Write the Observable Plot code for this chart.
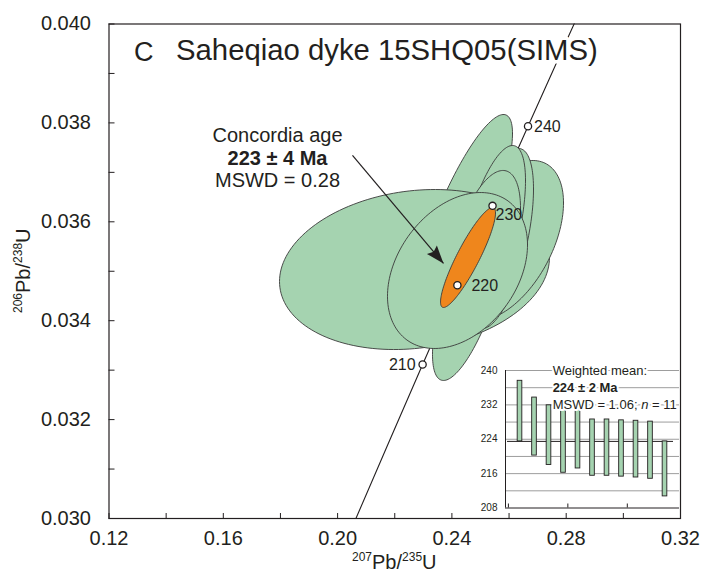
<!DOCTYPE html>
<html><head><meta charset="utf-8">
<script src="https://cdn.jsdelivr.net/npm/d3@7"></script>
<script src="https://cdn.jsdelivr.net/npm/@observablehq/plot@0.6"></script>
<style>
body{margin:0;background:#fff;}
#wrap{position:relative;width:703px;height:575px;font-family:"Liberation Sans",Arial,sans-serif;}
#wrap svg{position:absolute;overflow:visible;}
</style></head><body><div id="wrap"></div>
<script>
// ---------- data ----------
const concordiaAges = [190, 200, 210, 220, 230, 240, 250, 260];
const concordiaX = [0.20576, 0.21770, 0.22975, 0.24192, 0.25422, 0.26664, 0.27918, 0.29183];
const concordiaY = [0.029913, 0.031511, 0.033113, 0.034717, 0.036323, 0.037932, 0.039543, 0.041157];
const labelledAges = [210, 220, 230, 240];

// analysis error ellipses (centre, x half-extent, y half-extent, correlation)
const ellipseIds = ["H", "B", "A", "G", "F", "E", "D", "C"];
const ellipseCX = [0.24651, 0.24371, 0.22691, 0.25876, 0.25701, 0.25351, 0.25176, 0.24196];
const ellipseCY = [0.034611, 0.036026, 0.035035, 0.035622, 0.035662, 0.035622, 0.035521, 0.035015];
const ellipseRX = [0.01330, 0.01750, 0.04724, 0.02030, 0.01155, 0.01225, 0.01225, 0.02450];
const ellipseRY = [0.001820, 0.002144, 0.001618, 0.001618, 0.001820, 0.001921, 0.001517, 0.001577];
const ellipseRho = [0.71, 0.82, 0.15, 0.47, 0.55, 0.63, 0.50, 0.33];

// concordia age ellipse
const ageCX = [0.24564], ageCY = [0.035278], ageRX = [0.00962], ageRY = [0.001011], ageRho = [0.89];

const xTicks = [0.12, 0.16, 0.20, 0.24, 0.28, 0.32];
const xMinorTicks = [0.12, 0.14, 0.16, 0.18, 0.20, 0.22, 0.24, 0.26, 0.28, 0.30, 0.32];
const yTicks = [0.030, 0.032, 0.034, 0.036, 0.038, 0.040];
const yMinorTicks = [0.030, 0.031, 0.032, 0.033, 0.034, 0.035, 0.036, 0.037, 0.038, 0.039, 0.040];

const titleLetter = "C";
const titleText = "Saheqiao dyke 15SHQ05(SIMS)";
const annotationLines = ["Concordia age", "223 ± 4 Ma", "MSWD = 0.28"];
const arrowFrom = [0.20521, 0.037341];
const arrowTo = [0.23706, 0.035157];

// inset: weighted mean of 206Pb/238U ages
const insetIndex = [1, 2, 3, 4, 5, 6, 7, 8, 9, 10, 11];
const insetLow  = [223.5, 220.2, 218.0, 216.2, 217.2, 215.5, 215.5, 215.3, 215.1, 214.8, 210.7];
const insetHigh = [237.6, 233.7, 231.9, 231.5, 230.8, 228.6, 228.6, 228.4, 228.3, 228.1, 223.5];
const insetMean = 223.5;
const insetGrid = [212, 216, 220, 224, 228, 232, 236, 240];
const insetTicks = [208, 216, 224, 232, 240];
const insetXTicks = [0.2, 4.3, 8.4];
const insetLines = ["Weighted mean:", "224 ± 2 Ma", "MSWD = 1.06; n = 11"];

// ---------- styles ----------
const ink = "#231f20";
const edge = "#3a3a3a";
const green = "#a5d3b0";
const orange = "#ef861c";
const font = "'Liberation Sans', Arial, Helvetica, sans-serif";

// ---------- geometry ----------
const W = 703, H = 575, mL = 108.5, mR = 23, mT = 23.5, mB = 57;
const xDom = [0.12, 0.32], yDom = [0.030, 0.040];
const pxPerX = (W - mL - mR) / (xDom[1] - xDom[0]);
const pxPerY = (H - mT - mB) / (yDom[1] - yDom[0]);

function ellipsePoints(id, cx, cy, rx, ry, rho) {
  const s = Math.sqrt(1 - rho * rho), pts = [];
  const n = 160;
  for (let k = 0; k <= n; k++) {
    const t = (2 * Math.PI * k) / n;
    pts.push({id, x: cx + rx * Math.cos(t), y: cy + ry * (rho * Math.cos(t) + s * Math.sin(t))});
  }
  return pts;
}
const ellipses = ellipseIds.flatMap((id, i) =>
  ellipsePoints(id, ellipseCX[i], ellipseCY[i], ellipseRX[i], ellipseRY[i], ellipseRho[i]));
const ageEllipse = ellipsePoints("age", ageCX[0], ageCY[0], ageRX[0], ageRY[0], ageRho[0]);

const concordia = concordiaAges.map((a, i) => ({age: a, x: concordiaX[i], y: concordiaY[i]}));
const concTicks = concordia.filter(d => labelledAges.includes(d.age));

// arrowhead symbol pointing along the arrow direction (screen space)
const ddx = (arrowTo[0] - arrowFrom[0]) * pxPerX;
const ddy = -(arrowTo[1] - arrowFrom[1]) * pxPerY;
const dl = Math.hypot(ddx, ddy);
const ux = ddx / dl, uy = ddy / dl, nx = -uy, ny = ux;
const headLen = 18, headWid = 13;
const headSymbol = {draw(ctx) {
  ctx.moveTo(0, 0);
  ctx.lineTo(-ux * headLen + nx * headWid / 2, -uy * headLen + ny * headWid / 2);
  ctx.lineTo(-ux * headLen * 0.85, -uy * headLen * 0.85);
  ctx.lineTo(-ux * headLen - nx * headWid / 2, -uy * headLen - ny * headWid / 2);
  ctx.closePath();
}};

const tickLenX = 5 / pxPerY;
const tickLenY = 6 / pxPerX;

const labelOffsets = {210: [-7, 0, "end"], 220: [14, 1, "start"], 230: [3, 9, "start"], 240: [6, 1, "start"]};

const main = Plot.plot({
  width: W, height: H,
  marginLeft: mL, marginRight: mR, marginTop: mT, marginBottom: mB,
  x: {domain: xDom},
  y: {domain: yDom},
  style: {fontFamily: font, color: ink, background: "transparent", overflow: "visible"},
  marks: [
    Plot.line(concordia, {x: "x", y: "y", stroke: ink, strokeWidth: 1.1, curve: "natural", clip: true}),
    Plot.line(ellipses, {x: "x", y: "y", z: "id", fill: green, stroke: edge, strokeWidth: 0.9}),
    Plot.line(ageEllipse, {x: "x", y: "y", fill: orange, stroke: edge, strokeWidth: 0.9}),
    Plot.link([0], {x1: () => arrowFrom[0], y1: () => arrowFrom[1], x2: () => arrowTo[0], y2: () => arrowTo[1], stroke: ink, strokeWidth: 1.2}),
    Plot.dot([0], {x: () => arrowTo[0], y: () => arrowTo[1], symbol: headSymbol, fill: ink, stroke: "none"}),
    Plot.dot(concTicks, {x: "x", y: "y", r: 3.6, fill: "white", stroke: ink, strokeWidth: 1.3}),
    ...concTicks.map(d => Plot.text([d], {x: "x", y: "y", text: dd => String(dd.age),
      dx: labelOffsets[d.age][0], dy: labelOffsets[d.age][1], textAnchor: labelOffsets[d.age][2],
      fontSize: 16, fill: ink})),
    Plot.text([titleLetter], {text: d => d, frameAnchor: "top-left", dx: 25, dy: 28, textAnchor: "start",
      lineAnchor: "middle", fontSize: 27, fill: ink}),
    Plot.text([titleText], {text: d => d, frameAnchor: "top-left", dx: 67, dy: 27, textAnchor: "start",
      lineAnchor: "middle", fontSize: 29.3, fill: ink, stroke: "white", strokeWidth: 7}),
    Plot.text([annotationLines[0]], {text: d => d, frameAnchor: "top-left", dx: 168.5, dy: 111.5, textAnchor: "middle", lineAnchor: "middle", fontSize: 20, fill: ink}),
    Plot.text([annotationLines[1]], {text: d => d, frameAnchor: "top-left", dx: 168.5, dy: 134.5, textAnchor: "middle", lineAnchor: "middle", fontSize: 20, fontWeight: "bold", fill: ink}),
    Plot.text([annotationLines[2]], {text: d => d, frameAnchor: "top-left", dx: 168.5, dy: 156.5, textAnchor: "middle", lineAnchor: "middle", fontSize: 20, fill: ink}),
    Plot.ruleX(xMinorTicks, {y1: yDom[0], y2: yDom[0] + tickLenX, stroke: ink, strokeWidth: 1}),
    Plot.ruleY(yMinorTicks, {x1: xDom[0], x2: xDom[0] + tickLenY, stroke: ink, strokeWidth: 1}),
    Plot.frame({stroke: ink, strokeWidth: 1.2}),
    Plot.axisX(xTicks, {tickSize: 0, tickPadding: 12, tickFormat: d3.format(".2f"), fontSize: 20, label: null, fill: ink}),
    Plot.axisY(yTicks, {tickSize: 0, tickPadding: 18, tickFormat: d3.format(".3f"), fontSize: 20, label: null, fill: ink})
  ]
});
main.style.left = "0px"; main.style.top = "0px";
document.getElementById("wrap").appendChild(main);

// axis titles with superscripts
const msvg = d3.select(main);
const xl = msvg.append("text").attr("x", (mL + W - mR) / 2).attr("y", 569)
  .attr("text-anchor", "middle").attr("font-size", 20).attr("font-family", font).attr("fill", ink);
xl.append("tspan").attr("font-size", 12).attr("dy", -8).text("207");
xl.append("tspan").attr("dy", 8).text("Pb/");
xl.append("tspan").attr("font-size", 12).attr("dy", -8).text("235");
xl.append("tspan").attr("dy", 8).text("U");
const yl = msvg.append("text").attr("transform", `translate(30,${(mT + H - mB) / 2}) rotate(-90)`)
  .attr("text-anchor", "middle").attr("font-size", 20).attr("font-family", font).attr("fill", ink);
yl.append("tspan").attr("font-size", 12).attr("dy", -8).text("206");
yl.append("tspan").attr("dy", 8).text("Pb/");
yl.append("tspan").attr("font-size", 12).attr("dy", -8).text("238");
yl.append("tspan").attr("dy", 8).text("U");

// ---------- inset ----------
const iL = 505, iR = 679, iTop = 370, iBot = 507.5;
const imL = 35, imR = 2, imT = 12, imB = 6.5;
const iW = imL + (iR - iL) + imR, iH = imT + (iBot - iTop) + imB;
const pxPerAge = (iBot - iTop) / (240 - 208);
const bars = insetIndex.map((k, i) => ({k, lo: insetLow[i], hi: insetHigh[i]}));

const inset = Plot.plot({
  width: iW, height: iH,
  marginLeft: imL, marginRight: imR, marginTop: imT, marginBottom: imB,
  x: {domain: [0, 12], axis: null},
  y: {domain: [208, 240]},
  style: {fontFamily: font, color: ink, background: "transparent", overflow: "visible"},
  marks: [
    Plot.ruleY(insetGrid, {stroke: "#9d9d9d", strokeWidth: 1}),
    Plot.ruleY([insetMean], {stroke: ink, strokeWidth: 1, insetLeft: 2, insetRight: 6}),
    Plot.rect(bars, {x1: d => d.k - 0.16, x2: d => d.k + 0.16, y1: "lo", y2: "hi", fill: green, stroke: ink, strokeWidth: 0.9}),
    Plot.ruleX([0], {stroke: ink, strokeWidth: 1}),
    Plot.ruleY([208], {stroke: ink, strokeWidth: 1}),
    Plot.ruleX(insetXTicks, {y1: 208, y2: 208 + 4 / pxPerAge, stroke: ink, strokeWidth: 1}),
    Plot.axisY(insetTicks, {tickSize: 0, tickPadding: 8, fontSize: 10, label: null, fill: ink}),
    Plot.text([insetLines[0]], {text: d => d, x: () => 3.25, y: () => 240, textAnchor: "start", lineAnchor: "middle",
      fontSize: 13, fill: ink, stroke: "white", strokeWidth: 4}),
    Plot.text([insetLines[1]], {text: d => d, x: () => 3.25, y: () => 236, textAnchor: "start", lineAnchor: "middle",
      fontSize: 13, fontWeight: "bold", fill: ink, stroke: "white", strokeWidth: 4}),
    Plot.text([insetLines[2]], {text: d => d, x: () => 3.25, y: () => 232, textAnchor: "start", lineAnchor: "middle",
      fontSize: 13, fill: ink, stroke: "white", strokeWidth: 4})
  ]
});
inset.style.left = (iL - imL) + "px";
inset.style.top = (iTop - imT) + "px";
document.getElementById("wrap").appendChild(inset);

// italic "n" in the MSWD line
d3.select(inset).selectAll("text").each(function() {
  if (this.textContent === insetLines[2]) {
    const parts = insetLines[2].split(/(?<=; )n(?= =)/);
    this.textContent = "";
    const t = d3.select(this);
    t.append("tspan").text(parts[0]);
    t.append("tspan").attr("font-style", "italic").text("n");
    t.append("tspan").text(parts[1]);
  }
});
</script>
</body></html>
